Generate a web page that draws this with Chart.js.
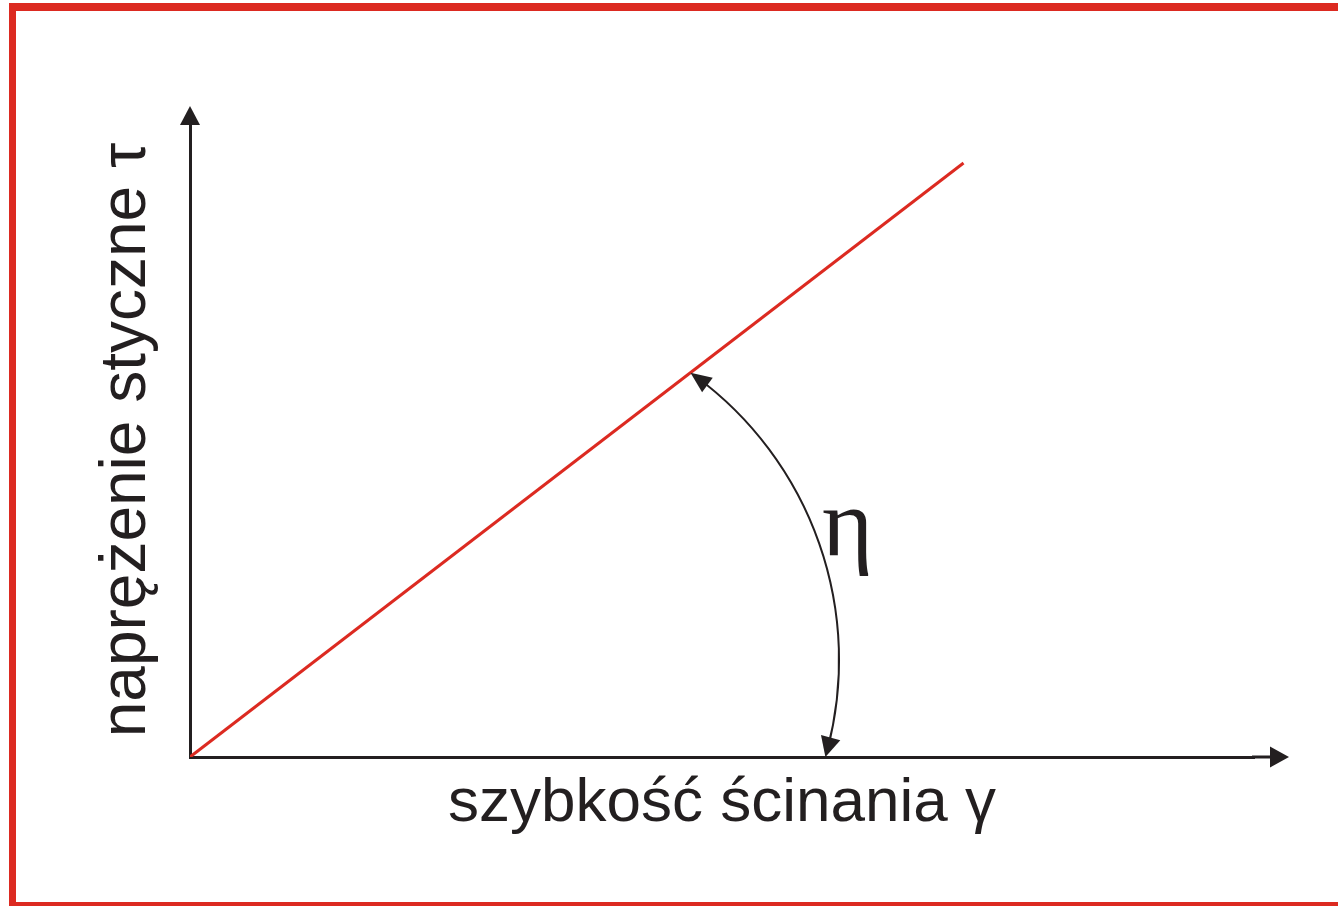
<!DOCTYPE html>
<html>
<head>
<meta charset="utf-8">
<script src="https://cdn.jsdelivr.net/npm/chart.js@4.4.0/dist/chart.umd.min.js"></script>
<style>
  html, body { margin: 0; padding: 0; background: #ffffff; }
  #wrap { position: relative; width: 1338px; height: 906px; }
</style>
</head>
<body>
<div id="wrap"><canvas id="c"></canvas></div>
<script>
// ---- data ----
const shearRate = [0, 7.27];      // γ (x)
const shearStress = [0, 9.37];    // τ (y)
const xTitle = 'szybkość ścinania γ';
const yTitle = 'naprężenie styczne τ';
const angleLabel = 'η';
const axisMin = 0;
const axisMax = 10;

// ---- styles ----
const RED = '#dc2a21';
const INK = '#231f20';

const points = shearRate.map((x, i) => ({ x: x, y: shearStress[i] }));

const decor = {
  id: 'decor',
  beforeDraw(chart) {
    const ctx = chart.ctx;
    ctx.save();
    ctx.fillStyle = RED;
    ctx.fillRect(9, 3, chart.width - 9, 8);
    ctx.fillRect(9, 3, 7, chart.height - 3);
    ctx.fillRect(9, 902, chart.width - 9, 8);
    ctx.restore();
  },
  afterDraw(chart) {
    const ctx = chart.ctx;
    const a = chart.chartArea;
    const xs = chart.scales.x, ys = chart.scales.y;
    ctx.save();
    ctx.fillStyle = INK;
    ctx.strokeStyle = INK;
    // y axis arrow
    const ox = xs.getPixelForValue(0), oy = ys.getPixelForValue(0);
    ctx.beginPath();
    ctx.moveTo(ox, a.top - 17);
    ctx.lineTo(ox - 10, a.top + 2);
    ctx.lineTo(ox + 10, a.top + 2);
    ctx.closePath();
    ctx.fill();
    // x axis extension + arrow
    ctx.lineWidth = 3;
    ctx.beginPath();
    ctx.moveTo(a.right - 2, oy);
    ctx.lineTo(a.right + 18, oy);
    ctx.stroke();
    ctx.beginPath();
    ctx.moveTo(a.right + 35, oy);
    ctx.lineTo(a.right + 16, oy - 10.5);
    ctx.lineTo(a.right + 16, oy + 10.5);
    ctx.closePath();
    ctx.fill();

    // angle arc (circle through the slope line and the x axis)
    const cx = xs.getPixelForValue(2.79), cy = ys.getPixelForValue(1.53);
    const r = (xs.getPixelForValue(3.31) - xs.getPixelForValue(0));
    const ex = xs.getPixelForValue(shearRate[1]), ey = ys.getPixelForValue(shearStress[1]);
    let dx = ex - ox, dy = ey - oy;
    const L = Math.hypot(dx, dy); dx /= L; dy /= L;
    const b = dx * (ox - cx) + dy * (oy - cy);
    const c = (ox - cx) ** 2 + (oy - cy) ** 2 - r * r;
    const t = -b + Math.sqrt(b * b - c);
    const p1 = { x: ox + t * dx, y: oy + t * dy };
    const p2 = { x: cx + Math.sqrt(r * r - (oy - cy) ** 2), y: oy };
    const a1 = Math.atan2(p1.y - cy, p1.x - cx);
    const a2 = Math.atan2(p2.y - cy, p2.x - cx);
    ctx.lineWidth = 2;
    ctx.beginPath();
    ctx.arc(cx, cy, r, a1 + 0.02, a2 - 0.02, false);
    ctx.stroke();
    const head = (tip, ux, uy, len, hw) => {
      const bx = tip.x - ux * len, by = tip.y - uy * len;
      ctx.beginPath();
      ctx.moveTo(tip.x, tip.y);
      ctx.lineTo(bx - uy * hw, by + ux * hw);
      ctx.lineTo(bx + uy * hw, by - ux * hw);
      ctx.closePath();
      ctx.fill();
    };
    const h1a = a1 + 0.03;
    const h2a = a2 - 0.03;
    let u1x = p1.x - (cx + r * Math.cos(h1a)), u1y = p1.y - (cy + r * Math.sin(h1a));
    let n1 = Math.hypot(u1x, u1y); u1x /= n1; u1y /= n1;
    let u2x = p2.x - (cx + r * Math.cos(h2a)), u2y = p2.y - (cy + r * Math.sin(h2a));
    let n2 = Math.hypot(u2x, u2y); u2x /= n2; u2y /= n2;
    head(p1, u1x, u1y, 21, 9);
    head(p2, u2x, u2y, 20, 10);

    // η label
    ctx.font = '98px "Liberation Serif", "DejaVu Serif", serif';
    ctx.textAlign = 'center';
    ctx.textBaseline = 'alphabetic';
    ctx.fillText(angleLabel, xs.getPixelForValue(6.18), ys.getPixelForValue(3.19));
    ctx.restore();
  }
};

new Chart(document.getElementById('c'), {
  type: 'line',
  data: {
    datasets: [{
      data: points,
      borderColor: RED,
      borderWidth: 3,
      pointRadius: 0,
      fill: false,
      tension: 0
    }]
  },
  options: {
    responsive: true,
    maintainAspectRatio: false,
    animation: false,
    layout: { padding: { left: 0, right: 84, top: 123, bottom: 0 } },
    plugins: { legend: { display: false }, tooltip: { enabled: false } },
    scales: {
      x: {
        type: 'linear',
        min: axisMin,
        max: axisMax,
        grid: { display: true, drawOnChartArea: false, drawTicks: false },
        border: { display: true, color: INK, width: 3 },
        ticks: { display: false },
        title: {
          display: true,
          text: xTitle,
          color: INK,
          font: { family: '"Liberation Sans", Arial, sans-serif', size: 62, lineHeight: 1 },
          padding: { top: 16, bottom: 71 }
        }
      },
      y: {
        type: 'linear',
        min: axisMin,
        max: axisMax,
        grid: { display: true, drawOnChartArea: false, drawTicks: false },
        border: { display: true, color: INK, width: 3 },
        ticks: { display: false },
        title: {
          display: true,
          text: yTitle,
          color: INK,
          font: { family: '"Liberation Sans", Arial, sans-serif', size: 64, lineHeight: 1 },
          padding: { top: 95, bottom: 31 }
        }
      }
    }
  },
  plugins: [decor]
});
</script>
</body>
</html>
